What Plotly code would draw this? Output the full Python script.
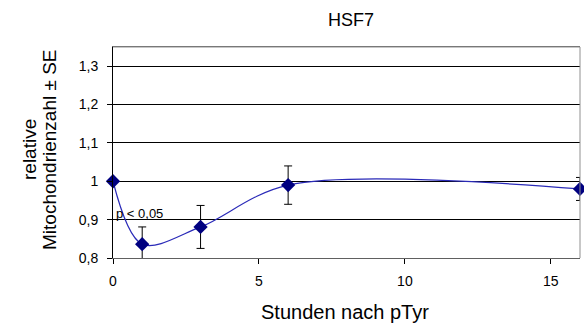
import plotly.graph_objects as go

hours = [0, 1, 3, 6, 16]
values = [1.0, 0.836, 0.881, 0.99, 0.98]
errors = [0.0, 0.045, 0.056, 0.05, 0.03]
y_ticks = [0.8, 0.9, 1.0, 1.1, 1.2, 1.3]
y_tick_text = ["0,8", "0,9", "1", "1,1", "1,2", "1,3"]
x_ticks = [0, 5, 10, 15]

FONT = "Liberation Sans, Arial"
W, H = 584, 327
L, R, T, B = 113, 4, 47, 69

fig = go.Figure()
fig.add_trace(go.Scatter(
    x=hours, y=values, mode="lines+markers",
    line=dict(color="#2a2ab8", width=1.2, shape="spline", smoothing=0.95),
    marker=dict(symbol="diamond", size=11, color="#000080"),
    error_y=dict(type="data", array=errors, visible=True, color="black", thickness=1, width=4),
    showlegend=False, cliponaxis=False,
))

# significance note
fig.add_annotation(x=0.05, y=0.9, text="p < 0,05", showarrow=False, xanchor="left", yanchor="middle",
                   yshift=6, font=dict(family=FONT, size=13, color="black"))

# title
fig.add_annotation(text="HSF7", xref="paper", yref="paper", x=(351 - L) / (W - L - R),
                   y=1 + (T - 20) / (H - T - B), xanchor="center", yanchor="middle", showarrow=False,
                   font=dict(family=FONT, size=18, color="black"))
# x axis title
fig.add_annotation(text="Stunden nach pTyr", xref="paper", yref="paper", x=(345 - L) / (W - L - R),
                   y=-(312 - (H - B)) / (H - T - B), xanchor="center", yanchor="middle", showarrow=False,
                   font=dict(family=FONT, size=20, color="black"))
# y axis title (two lines)
for txt, cx in [("relative", 29), ("Mitochondrienzahl ± SE", 49)]:
    fig.add_annotation(text=txt, xref="paper", yref="paper", x=(cx - L) / (W - L - R),
                       y=(H - B - 150) / (H - T - B), xanchor="center", yanchor="middle",
                       textangle=-90, showarrow=False,
                       font=dict(family=FONT, size=19, color="black"))

fig.update_layout(
    width=W, height=H,
    margin=dict(l=L, r=R, t=T, b=B),
    paper_bgcolor="white", plot_bgcolor="white",
    separators=", ",
    font=dict(family=FONT, color="black"),
    xaxis=dict(range=[0, 16], tickvals=x_ticks, ticks="outside", ticklen=5, tickcolor="black",
               showgrid=False, zeroline=False, showline=True, linecolor="#606060", mirror=True,
               tickfont=dict(size=14), ticklabelstandoff=5),
    yaxis=dict(range=[0.8, 1.35], tickvals=y_ticks, ticktext=y_tick_text,
               ticks="outside", ticklen=5, tickcolor="black",
               showgrid=True, gridcolor="black", gridwidth=1, zeroline=False,
               showline=True, linecolor="black", tickfont=dict(size=14), ticklabelstandoff=6),
)
fig.add_shape(type="line", xref="paper", yref="paper", x0=0, x1=1, y0=1, y1=1,
              line=dict(color="#909090", width=1))
fig.add_shape(type="line", xref="paper", yref="paper", x0=1, x1=1, y0=0, y1=1,
              line=dict(color="#909090", width=1))

fig.write_html("out.html", config={"displayModeBar": False},
               post_script="document.body.style.margin='0';")
